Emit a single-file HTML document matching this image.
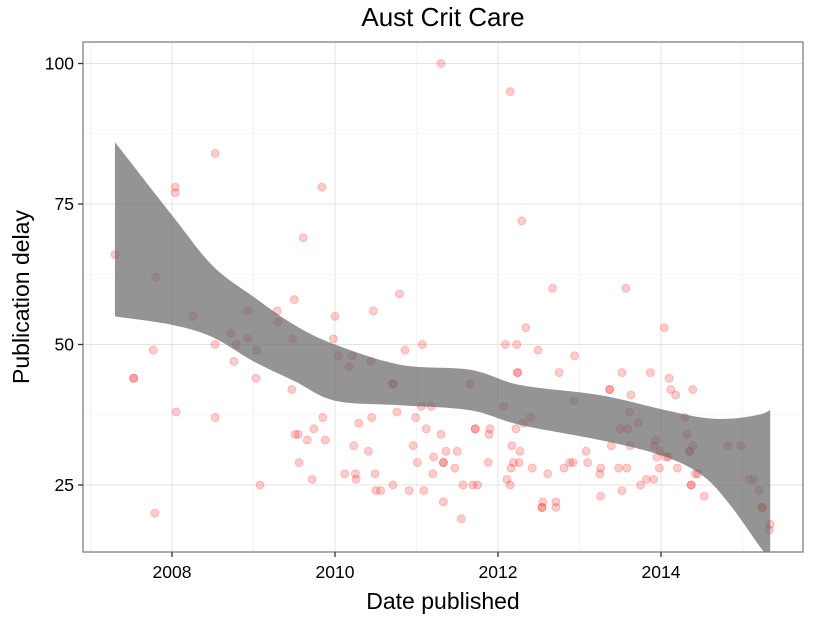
<!DOCTYPE html>
<html><head><meta charset="utf-8"><style>
html,body{margin:0;padding:0;background:#fff;}
svg{display:block;font-family:"Liberation Sans",sans-serif;}
</style></head><body>
<svg id="chart" width="825" height="618">
<text x="443" y="26" text-anchor="middle" font-size="26" fill="#000">Aust Crit Care</text>
<g id="grid"></g><g id="pts"></g><g id="band"></g><g id="axes"></g>
<text x="443" y="609" text-anchor="middle" font-size="23">Date published</text>
<text transform="translate(29,297) rotate(-90)" text-anchor="middle" font-size="23">Publication delay</text>
</svg>
<script>
const xYears=[2007.30,2007.53,2007.53,2007.77,2007.80,2007.79,2008.04,2008.04,2008.05,2008.26,2008.53,2008.53,2008.53,2008.72,2008.76,2008.79,2008.93,2008.93,2009.03,2009.04,2009.08,2009.29,2009.30,2009.47,2009.48,2009.50,2009.51,2009.55,2009.56,2009.61,2009.66,2009.72,2009.74,2009.84,2009.85,2009.88,2010.00,2009.98,2010.04,2010.12,2010.17,2010.21,2010.23,2010.25,2010.26,2010.29,2010.41,2010.44,2010.45,2010.47,2010.49,2010.50,2010.56,2010.71,2010.71,2010.71,2010.76,2010.79,2010.86,2010.91,2010.96,2010.99,2011.01,2011.06,2011.07,2011.09,2011.12,2011.18,2011.20,2011.21,2011.30,2011.30,2011.33,2011.33,2011.33,2011.36,2011.47,2011.50,2011.55,2011.57,2011.66,2011.69,2011.72,2011.72,2011.75,2011.88,2011.89,2011.90,2012.07,2012.09,2012.11,2012.15,2012.16,2012.15,2012.17,2012.19,2012.22,2012.23,2012.24,2012.24,2012.27,2012.26,2012.29,2012.31,2012.34,2012.40,2012.42,2012.49,2012.54,2012.54,2012.55,2012.61,2012.67,2012.71,2012.71,2012.75,2012.81,2012.88,2012.92,2012.93,2012.94,2013.08,2013.10,2013.26,2013.25,2013.26,2013.37,2013.37,2013.39,2013.48,2013.50,2013.52,2013.52,2013.57,2013.58,2013.59,2013.61,2013.62,2013.63,2013.72,2013.75,2013.82,2013.87,2013.91,2013.92,2013.93,2013.95,2013.98,2013.99,2014.04,2014.06,2014.09,2014.10,2014.12,2014.18,2014.20,2014.29,2014.32,2014.35,2014.35,2014.37,2014.37,2014.39,2014.39,2014.42,2014.45,2014.53,2014.82,2014.98,2015.08,2015.14,2015.20,2015.24,2015.24,2015.33,2015.34];
const delays=[66,44,44,49,62,20,78,77,38,55,84,50,37,52,47,50,51,56,44,49,25,56,54,42,51,58,34,34,29,69,33,26,35,78,37,33,55,51,48,27,46,48,32,27,26,36,31,47,37,56,27,24,24,25,43,43,38,59,49,24,32,37,29,39,50,24,35,39,27,30,100,34,29,29,22,31,28,31,19,25,43,25,35,35,25,29,34,35,39,50,26,25,28,95,32,29,35,50,45,45,31,29,72,36,53,37,28,49,21,21,22,27,60,22,21,45,28,29,29,40,48,31,29,23,27,28,42,42,32,28,35,45,24,60,28,35,38,32,41,36,25,26,45,26,32,33,30,28,31,53,30,30,44,42,41,28,37,34,31,31,25,25,42,32,27,27,23,32,32,26,26,24,21,21,17,18];
const bandYears=[2007.3,2008,2008.5,2009,2009.5,2010,2010.8,2011.66,2012.27,2013.25,2014,2014.5,2014.85,2015.2,2015.34];
const bandUpper=[86,73,64,58.5,53.5,50,46.4,45.5,42.8,41,38.5,37,36.8,37.5,38.3];
const bandLower=[55,53.5,51.3,47,43.5,40,39.2,38.3,35.7,33,30.3,26.8,21.4,14.3,11.7];
const xTicks=[2008,2010,2012,2014];
const yTicks=[25,50,75,100];

const L=83,R=803,T=42,B=552;
const sx=v=>172+(v-2008)*81.5;
const sy=v=>485-(v-25)*5.62;
const NS="http://www.w3.org/2000/svg";
function mk(p,t,a){const e=document.createElementNS(NS,t);for(const k in a)e.setAttribute(k,a[k]);p.appendChild(e);return e;}
function crPath(P,start){let s=(start?'M':'L')+P[0][0]+','+P[0][1];
for(let i=0;i<P.length-1;i++){const p0=P[Math.max(i-1,0)],p1=P[i],p2=P[i+1],p3=P[Math.min(i+2,P.length-1)];
s+='C'+(p1[0]+(p2[0]-p0[0])/6)+','+(p1[1]+(p2[1]-p0[1])/6)+' '+(p2[0]-(p3[0]-p1[0])/6)+','+(p2[1]-(p3[1]-p1[1])/6)+' '+p2[0]+','+p2[1];}
return s;}
const grid=document.getElementById('grid'),band=document.getElementById('band'),pts=document.getElementById('pts'),axes=document.getElementById('axes');
const bg=mk(grid,'rect',{x:L,y:T,width:R-L,height:B-T,fill:'#fff'});


for(let y=2007;y<=2015;y++){const l=mk(grid,'line',{x1:sx(y),x2:sx(y),y1:T,y2:B,stroke:y%2?'#f2f2f2':'#e3e3e3','stroke-width':y%2?0.8:1});

}
for(let v=12.5;v<=100;v+=12.5){const l=mk(grid,'line',{x1:L,x2:R,y1:sy(v),y2:sy(v),stroke:(v%25)?'#f2f2f2':'#e3e3e3','stroke-width':(v%25)?0.8:1});

}
const cp=mk(document.getElementById('chart'),'clipPath',{id:'clip'});mk(cp,'rect',{x:L,y:T,width:R-L,height:B-T});
const up=bandYears.map((y,i)=>[sx(y),sy(bandUpper[i])]);
const lo=bandYears.map((y,i)=>[sx(y),sy(bandLower[i])]).reverse();
const d=crPath(up,true)+crPath(lo,false)+'Z';
xYears.forEach((x,i)=>{const c=mk(pts,'circle',{cx:sx(x),cy:sy(delays[i]),r:4,fill:'rgba(255,0,0,0.2)',stroke:'rgba(255,0,0,0.2)','stroke-width':1});

});
const bp=mk(band,'path',{d:d,fill:'#666','fill-opacity':0.7,'clip-path':'url(#clip)'});


const fr=mk(axes,'rect',{x:L,y:T,width:R-L,height:B-T,fill:'none',stroke:'#7f7f7f','stroke-width':1.3});


xTicks.forEach(t=>{mk(axes,'line',{x1:sx(t),x2:sx(t),y1:B,y2:B+5,stroke:'#333','stroke-width':1.3});
const tx=mk(axes,'text',{x:sx(t),y:B+26,'text-anchor':'middle','font-size':17.5});tx.textContent=t;

});
yTicks.forEach(t=>{mk(axes,'line',{x1:L-5,x2:L,y1:sy(t),y2:sy(t),stroke:'#333','stroke-width':1.3});
const tx=mk(axes,'text',{x:L-9,y:sy(t)+6,'text-anchor':'end','font-size':17.5});tx.textContent=t;

});
</script>
</body></html>
